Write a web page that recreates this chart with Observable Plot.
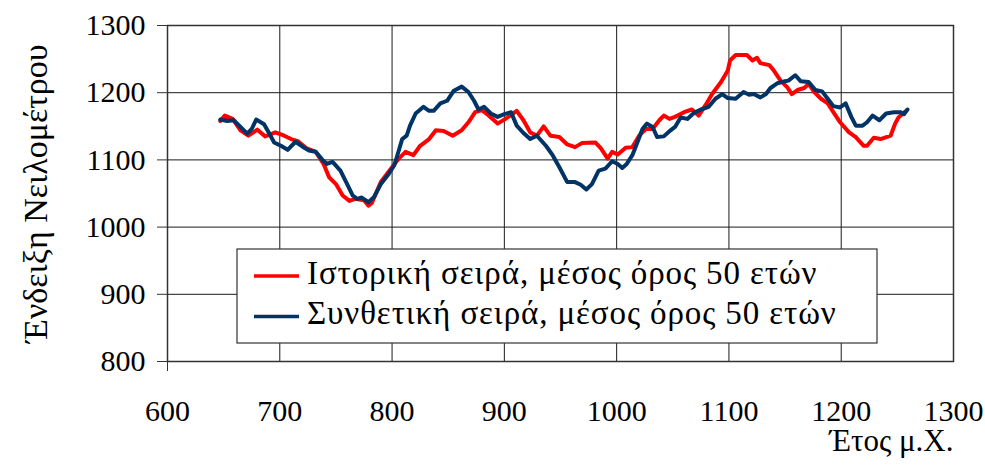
<!DOCTYPE html>
<html>
<head>
<meta charset="utf-8">
<script src="https://cdn.jsdelivr.net/npm/d3@7"></script>
<script src="https://cdn.jsdelivr.net/npm/@observablehq/plot@0.6"></script>
<style>
  html, body { margin: 0; padding: 0; background: #fff; }
  #chart { width: 985px; height: 469px; }
</style>
</head>
<body>
<div id="chart"></div>
<script>
const historicYears = [647,651,658,665,672,680,687,696,704,710,716,724,732,739,744,750,756,762,767,775,779,782,790,799,806,812,819,825,833,839,846,854,862,868,874,880,886,894,901,911,917,923,929,935,941,949,956,963,969,981,986,992,996,1001,1008,1014,1020,1026,1032,1038,1042,1047,1052,1060,1067,1073,1079,1085,1093,1099,1101,1106,1116,1121,1125,1128,1136,1140,1146,1152,1156,1161,1167,1171,1176,1182,1188,1193,1199,1207,1213,1220,1223,1229,1235,1244,1248,1251,1257];
const historicValues = [1158,1166,1161,1144,1136,1145,1135,1141,1136,1131,1128,1117,1112,1094,1074,1064,1047,1039,1042,1040,1032,1036,1067,1087,1102,1112,1107,1121,1131,1144,1143,1136,1144,1156,1171,1174,1166,1154,1161,1173,1159,1141,1136,1150,1136,1134,1123,1119,1125,1126,1117,1102,1112,1108,1118,1119,1136,1146,1146,1159,1166,1161,1164,1171,1175,1166,1181,1198,1216,1233,1248,1256,1256,1248,1252,1244,1241,1233,1218,1208,1198,1204,1207,1213,1201,1191,1184,1171,1156,1141,1134,1121,1121,1133,1131,1136,1154,1163,1172];

const syntheticYears = [647,653,659,665,671,675,679,686,690,695,701,707,714,720,726,732,738,742,747,754,760,765,769,773,779,784,790,797,802,806,809,813,816,821,828,833,837,843,849,855,862,868,873,877,882,888,894,900,906,911,917,923,929,937,943,949,956,963,968,973,978,984,990,996,1001,1005,1009,1014,1018,1023,1027,1032,1036,1042,1048,1052,1057,1063,1069,1075,1082,1088,1094,1099,1106,1113,1118,1122,1128,1133,1137,1143,1150,1153,1159,1164,1171,1177,1183,1188,1193,1199,1204,1209,1213,1219,1223,1228,1234,1240,1247,1253,1256,1259];
const syntheticValues = [1160,1158,1159,1149,1139,1146,1160,1153,1141,1126,1121,1115,1127,1120,1114,1112,1100,1094,1097,1084,1064,1047,1042,1044,1037,1045,1064,1079,1092,1114,1131,1136,1151,1169,1179,1173,1173,1184,1188,1203,1209,1201,1188,1175,1179,1169,1164,1168,1171,1151,1140,1131,1136,1121,1107,1089,1067,1067,1063,1056,1064,1084,1087,1098,1094,1088,1094,1107,1124,1146,1154,1149,1134,1135,1144,1149,1163,1161,1170,1175,1179,1191,1198,1192,1191,1201,1197,1198,1193,1198,1207,1214,1217,1218,1226,1217,1216,1204,1202,1191,1180,1178,1184,1164,1151,1151,1156,1166,1159,1169,1171,1171,1168,1175];

const xTicks = [600,700,800,900,1000,1100,1200,1300];
const yTicks = [800,900,1000,1100,1200,1300];
const seriesNames = ["Ιστορική σειρά, μέσος όρος 50 ετών", "Συνθετική σειρά, μέσος όρος 50 ετών"];
const seriesColors = ["#ff0000", "#003366"];
const xLabel = "Έτος μ.Χ.";
const yLabel = "Ένδειξη Νειλομέτρου";

const historic = historicYears.map((y, i) => ({year: y, value: historicValues[i]}));
const synthetic = syntheticYears.map((y, i) => ({year: y, value: syntheticValues[i]}));

const FONT = "'Liberation Serif', 'DejaVu Serif', serif";

const chart = Plot.plot({
  width: 985,
  height: 469,
  marginLeft: 167,
  marginRight: 32,
  marginTop: 25,
  marginBottom: 108,
  style: {fontFamily: FONT, fontSize: "30px", color: "#000", background: "#fff", overflow: "visible"},
  x: {domain: [600, 1300], axis: null},
  y: {domain: [800, 1300], axis: null},
  marks: [
    Plot.gridY(yTicks, {stroke: "#1a1a1a", strokeOpacity: 1, strokeWidth: 1}),
    Plot.gridX(xTicks, {stroke: "#1a1a1a", strokeOpacity: 1, strokeWidth: 1}),
    Plot.axisY(yTicks, {tickSize: 10, tickPadding: 12, fontSize: 30, stroke: "#333", label: null, tickFormat: d => String(d)}),
    Plot.axisX(xTicks, {tickSize: 0, tickPadding: 38, fontSize: 30, label: null, tickFormat: d => String(d)}),
    Plot.axisX([600], {tickSize: 10, stroke: "#333", label: null, tickFormat: () => ""}),
    Plot.frame({stroke: "#333", strokeWidth: 1.5}),
    Plot.line(historic, {x: "year", y: "value", stroke: seriesColors[0], strokeWidth: 4, strokeLinejoin: "round"}),
    Plot.line(synthetic, {x: "year", y: "value", stroke: seriesColors[1], strokeWidth: 4, strokeLinejoin: "round"}),
    Plot.text([yLabel], {frameAnchor: "left", rotate: -90, dx: -131, fontSize: 34, textAnchor: "middle", lineAnchor: "middle"}),
    Plot.text([xLabel], {frameAnchor: "bottom-right", dy: 80, fontSize: 31, textAnchor: "end", lineAnchor: "middle"})
  ]
});

// Legend box inside the plot area
const svg = d3.select(chart);
const lg = svg.append("g").attr("transform", "translate(237,249)");
lg.append("rect").attr("width", 640).attr("height", 94).attr("fill", "#fff").attr("stroke", "#333").attr("stroke-width", 1.2);
seriesNames.forEach((name, i) => {
  const cy = 27 + i * 40.5;
  lg.append("line").attr("x1", 17).attr("x2", 62).attr("y1", cy).attr("y2", cy)
    .attr("stroke", seriesColors[i]).attr("stroke-width", 3.5);
  lg.append("text").attr("x", 70).attr("y", cy + 7.5)
    .attr("text-anchor", "start")
    .attr("font-family", FONT).attr("font-size", 33).attr("letter-spacing", "0.9px").attr("fill", "#000")
    .text(name);
});

document.getElementById("chart").appendChild(chart);
</script>
</body>
</html>
